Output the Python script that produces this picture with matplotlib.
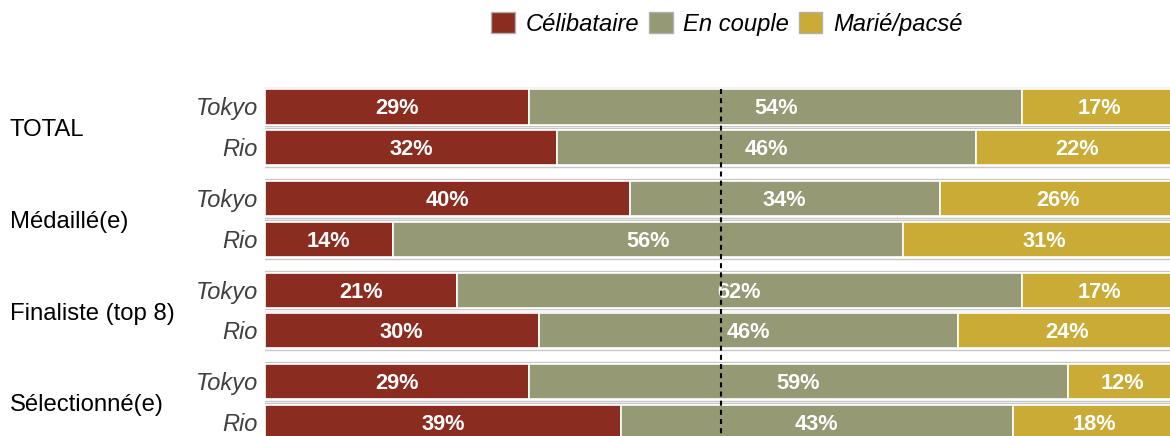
import matplotlib
matplotlib.use('Agg')
import matplotlib.pyplot as plt
from matplotlib.patches import Patch
import numpy as np

groups = ['TOTAL', 'Médaillé(e)', 'Finaliste (top 8)', 'Sélectionné(e)']
editions = ['Tokyo', 'Rio']

# one value per bar, order: TOTAL Tokyo, TOTAL Rio, Médaillé Tokyo, ...
celibataire = [29, 32, 40, 14, 21, 30, 29, 39]
en_couple = [54, 46, 34, 56, 62, 46, 59, 43]
marie_pacse = [17, 22, 26, 31, 17, 24, 12, 18]

series_names = ['Célibataire', 'En couple', 'Marié/pacsé']
colors = ['#8b2c20', '#959a74', '#c9ab35']

plt.rcParams['font.family'] = ['Liberation Sans', 'DejaVu Sans']

W, H = 1170, 436
fig = plt.figure(figsize=(W / 100, H / 100), dpi=100)

unit = 40.7
top_px = 107 - 0.5 * unit
ax_h = H - top_px
ax = fig.add_axes([265 / W, 0, 912 / W, ax_h / H])
ymax = (H - 107) / unit
ax.set_ylim(ymax, -0.5)
ax.set_xlim(0, 1)
ax.axis('off')

ypos = []
for g in range(len(groups)):
    for i in range(len(editions)):
        ypos.append(g * 2.25 + i)
ypos = np.array(ypos)

# row frames
ax.barh(ypos, 1.003, left=-0.003, height=0.945, color='white',
        edgecolor='#c8c8c8', linewidth=1.0, zorder=1)

# small downward nudge so the text sits like the original
dy = 2 / unit

data = [np.array(celibataire), np.array(en_couple), np.array(marie_pacse)]
left = np.zeros(len(ypos))
for vals, col in zip(data, colors):
    w = vals / 100
    ax.barh(ypos, w, left=left, height=0.86, color=col,
            edgecolor='white', linewidth=1.2, zorder=2)
    for y, l, v in zip(ypos, left, vals):
        ax.text(l + v / 200, y + dy, '{}%'.format(v), ha='center', va='center',
                color='white', fontsize=15.7, fontweight='bold', zorder=4)
    left = left + w

ax.vlines(0.5, -0.45, ymax + 0.5, colors='black', linewidth=1.5,
          linestyles=(0, (2.4, 2.0)), zorder=5)

# row labels
for k, y in enumerate(ypos):
    ax.text(-7 / 912, y + dy, editions[k % 2], ha='right', va='center',
            fontsize=17, fontstyle='italic', color='#404040')

for g, name in enumerate(groups):
    yc = g * 2.25 + 0.5 + 3 / unit
    ax.text(-255 / 912, yc, name, ha='left', va='center', fontsize=17.2,
            color='black')

handles = [Patch(facecolor=c, edgecolor='#b0b0b0', linewidth=1) for c in colors]
leg = fig.legend(handles, series_names, loc='center', bbox_to_anchor=(727 / W, 1 - 24 / H),
                 ncol=3, frameon=False, fontsize=17.1, handlelength=1.0,
                 handleheight=1.0, handletextpad=0.45, columnspacing=0.4,
                 borderaxespad=0, borderpad=0)
for t in leg.get_texts():
    t.set_fontstyle('italic')

plt.savefig('out.png', dpi=100)
plt.close()
